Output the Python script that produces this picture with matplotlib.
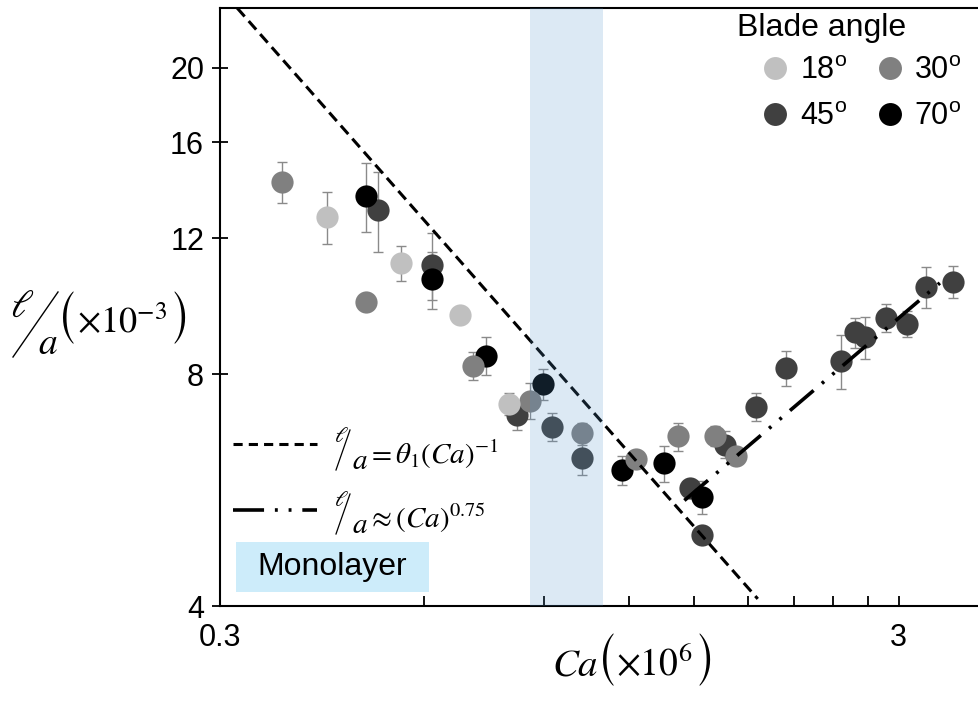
import numpy as np
import matplotlib
matplotlib.use("Agg")
import matplotlib.pyplot as plt
from matplotlib.lines import Line2D
from matplotlib.patches import Rectangle
from matplotlib.ticker import FixedLocator, FixedFormatter, NullLocator, NullFormatter

plt.rcParams['font.family'] = ['Liberation Sans', 'DejaVu Sans']
plt.rcParams['mathtext.fontset'] = 'stix'

# ---- measured data: capillary number (x1e-6) vs ell/a (x1e3) ----
angles = ['18', '30', '45', '70']
colors = ['#c0c0c0', '#808080', '#404040', '#000000']

ca18 = [0.431, 0.554, 0.678, 0.800]
l18 = [12.80, 11.16, 9.55, 7.32]
e18 = [1.0, 0.59, 0.0, 0.25]

ca30 = [0.370, 0.493, 0.708, 0.860, 1.026, 1.230, 1.417, 1.607, 1.726]
l30 = [14.22, 9.92, 8.20, 7.39, 6.70, 6.20, 6.64, 6.65, 6.27]
e30 = [0.88, 0.0, 0.35, 0.39, 0.22, 0.0, 0.28, 0.20, 0.0]

ca45 = [0.513, 0.616, 0.821, 0.924, 1.026, 1.477, 1.541, 1.663, 1.850,
        2.050, 2.467, 2.591, 2.674, 2.878, 3.082, 3.288, 3.606]
l45 = [13.08, 11.09, 7.08, 6.84, 6.23, 5.69, 4.94, 6.48, 7.26,
       8.14, 8.32, 9.06, 8.93, 9.46, 9.30, 10.39, 10.55]
e45 = [1.55, 1.1, 0.31, 0.28, 0.31, 0.0, 0.0, 0.26, 0.3,
       0.43, 0.66, 0.4, 0.56, 0.4, 0.36, 0.63, 0.51]

ca70 = [0.493, 0.616, 0.739, 0.898, 1.172, 1.353, 1.541]
l70 = [13.64, 10.63, 8.45, 7.76, 6.01, 6.13, 5.54]
e70 = [1.4, 0.9, 0.48, 0.36, 0.26, 0.33, 0.27]

# power-law guides
theta1 = 7.6            # ell/a = theta1 * Ca^-1
inv_range = [0.318, 1.86]
pref = 4.15             # ell/a ~ pref * Ca^0.75
exp_rise = 0.75
rise_range = [1.45, 3.45]

# monolayer window on the Ca axis
band = [0.858, 1.10]

xticks_major = [0.3, 3]
xticks_minor = [0.6, 0.9, 1.2, 1.5, 1.8, 2.1, 2.4, 2.7]
yticks = [4, 8, 12, 16, 20]

W, H = 979, 713
fig = plt.figure(figsize=(W / 100, H / 100), dpi=100)
ax = fig.add_axes([220 / W, 1 - 606 / H, (W - 220) / W, (606 - 8) / H])
ax.set_xscale('log')
ax.set_yscale('log')
ax.set_xlim(0.3, 3.94)
ax.set_ylim(4, 23.9)

series = [(ca45, l45, e45, colors[2]),
          (ca70, l70, e70, colors[3]),
          (ca30, l30, e30, colors[1]),
          (ca18, l18, e18, colors[0])]
for ca, l, e, c in series:
    ax.errorbar(ca, l, yerr=e, fmt='none', ecolor='#8a8a8a', elinewidth=1.0,
                capsize=3.5, capthick=1.0, zorder=2)
    ax.plot(ca, l, 'o', ms=16, color=c, mec='none', zorder=3)

dash_inv = (3.7, 2.0)
ddd = (8.6, 3.0, 0.8, 3.0, 0.8, 3.0)
xi = np.geomspace(inv_range[0], inv_range[1], 50)
ax.plot(xi, theta1 / xi, color='black', lw=2.2, dashes=dash_inv, zorder=4)
xr = np.geomspace(rise_range[0], rise_range[1], 50)
ax.plot(xr, pref * xr ** exp_rise, color='black', lw=2.6, dashes=ddd, zorder=4)

ax.axvspan(band[0], band[1], color=(82 / 255, 148 / 255, 204 / 255),
           alpha=0.2, lw=0, zorder=10)

# axes styling
for s in ['left', 'bottom', 'top']:
    ax.spines[s].set_linewidth(1.5)
ax.spines['right'].set_visible(False)
ax.xaxis.set_major_locator(FixedLocator(xticks_major))
ax.xaxis.set_major_formatter(FixedFormatter([str(v) for v in xticks_major]))
ax.xaxis.set_minor_locator(FixedLocator(xticks_minor))
ax.xaxis.set_minor_formatter(NullFormatter())
ax.yaxis.set_major_locator(FixedLocator(yticks))
ax.yaxis.set_major_formatter(FixedFormatter([str(v) for v in yticks]))
ax.yaxis.set_minor_locator(NullLocator())
ax.tick_params(axis='x', which='both', direction='in', length=7.5, width=1.3,
               labelsize=22, pad=12, top=False)
ax.tick_params(axis='y', which='both', direction='inout', length=11, width=1.3,
               labelsize=22, pad=6, right=False)


def fx(x):
    return x / W


def fy(y):
    return 1 - y / H


def ftext(x, y, s, **kw):
    return fig.text(fx(x), fy(y), s, **kw)


def fline(x0, y0, x1, y1, **kw):
    fig.add_artist(Line2D([fx(x0), fx(x1)], [fy(y0), fy(y1)],
                          transform=fig.transFigure, **kw))


PAREN = 'STIXSizeOneSym'

# y-axis label: ell / a (x10^-3)
ftext(22, 307, r'$\ell$', fontsize=28, ha='center', va='center')
fline(13, 357, 58, 292, color='black', lw=1.0)
ftext(48, 344, r'$a$', fontsize=27, ha='center', va='center')
ftext(67, 318, '(', fontsize=31, family=PAREN, ha='center', va='center')
ftext(77, 333, r'$\times10^{-3}$', fontsize=26, ha='left', va='baseline')
ftext(180, 318, ')', fontsize=31, family=PAREN, ha='center', va='center')

# x-axis label: Ca (x10^6)
ftext(552, 676, r'$Ca$', fontsize=28, ha='left', va='baseline')
ftext(607, 660, '(', fontsize=31, family=PAREN, ha='center', va='center')
ftext(616, 676, r'$\times10^{6}$', fontsize=27, ha='left', va='baseline')
ftext(705, 660, ')', fontsize=31, family=PAREN, ha='center', va='center')

# key for the two guide lines
fig.add_artist(Line2D([fx(233), fx(317)], [fy(444), fy(444)], color='black',
                      lw=2.2, dashes=(3.0, 2.0), transform=fig.transFigure))
fig.add_artist(Line2D([fx(233), fx(317)], [fy(510), fy(510)], color='black',
                      lw=2.6, dashes=ddd, transform=fig.transFigure))
for ycen, rest in [(446, r'$=\theta_1(Ca)^{-1}$'), (510, r'$\approx(Ca)^{0.75}$')]:
    ftext(341, ycen - 9, r'$\ell$', fontsize=16, ha='center', va='center')
    fline(336, ycen + 24, 350, ycen - 16, color='black', lw=0.9)
    ftext(360, ycen + 15, r'$a$', fontsize=21, ha='center', va='center')
    ftext(367, ycen + 18, rest, fontsize=21, ha='left', va='baseline')

# monolayer tag
fig.add_artist(Rectangle((fx(236), fy(592)), (429 - 236) / W, 50 / H,
                         transform=fig.transFigure, facecolor='#cdecfa',
                         edgecolor='none'))
ftext(332, 567, 'Monolayer', fontsize=23, ha='center', va='center')

# blade-angle legend (rows: 18/30, 45/70)
handles = [Line2D([], [], marker='o', ls='none', ms=16.5, color=c, mec='none')
           for c in colors]
labels = [a + r'$^\mathregular{o}$' for a in angles]
order = [0, 2, 1, 3]
ax.legend([handles[i] for i in order], [labels[i] for i in order], ncol=2,
          loc='upper left', bbox_to_anchor=(fx(760), fy(56)),
          bbox_transform=fig.transFigure, frameon=False, fontsize=22,
          handlelength=1.0, handletextpad=0.3, columnspacing=0.9,
          labelspacing=0.52, borderpad=0, borderaxespad=0)
ftext(822, 28, 'Blade angle', fontsize=23, ha='center', va='center')

fig.savefig('out.png', dpi=100)
